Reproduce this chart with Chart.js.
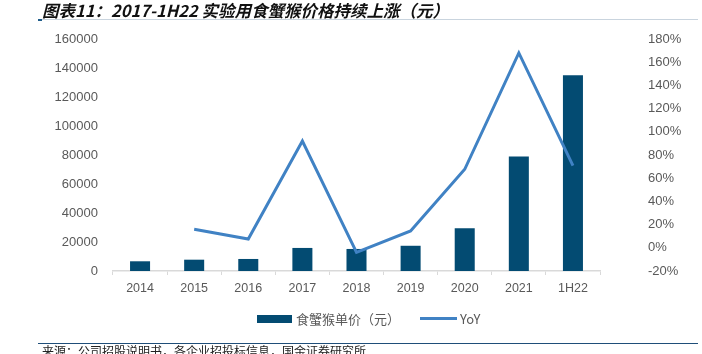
<!DOCTYPE html>
<html>
<head>
<meta charset="utf-8">
<script src="https://cdn.jsdelivr.net/npm/chart.js@4"></script>
<style>
  html, body { margin: 0; padding: 0; background: #fff; }
  #wrap { position: relative; width: 702px; height: 354px; overflow: hidden; }
  canvas#price-chart { position: absolute; left: 0; top: 0; }
  .title {
    position: absolute; left: 42px; top: 1px;
    font: italic bold 16.5px "Noto Sans CJK SC", sans-serif; color: #111;
    white-space: nowrap; line-height: 18px;
  }
  .title-rule { position: absolute; left: 38px; top: 19px; width: 660px; height: 1px; background: #c9d4de; }
  .title-mark { position: absolute; left: 38px; top: 19px; width: 4px; height: 2px; background: #1f5c8a; }
  .legend { position: absolute; top: 311px; font: 13px "Noto Sans CJK SC", sans-serif; color: #595959; white-space: nowrap; line-height: 16px; }
  .swatch { position: absolute; }
  .foot-rule { position: absolute; left: 38px; top: 343px; width: 660px; height: 1px; background: #1f4e79; }
  .foot {
    position: absolute; left: 42px; top: 344px;
    font: 12px "Noto Sans CJK SC", sans-serif; color: #222; white-space: nowrap; line-height: 14px;
  }
</style>
</head>
<body>
<div id="wrap">
  <canvas id="price-chart" width="702" height="354"></canvas>
  <div class="title">图表11：2017-1H22 实验用食蟹猴价格持续上涨（元）</div>
  <div class="title-rule"></div>
  <div class="title-mark"></div>
  <div class="swatch" style="left:257px;top:315px;width:35px;height:8px;background:#034b72"></div>
  <div class="legend" style="left:296px">食蟹猴单价（元）</div>
  <div class="swatch" style="left:420px;top:317px;width:37px;height:3px;background:#4082c4"></div>
  <div class="legend" style="left:460px">YoY</div>
  <div class="foot-rule"></div>
  <div class="foot">来源：公司招股说明书，各企业招投标信息，国金证券研究所</div>
</div>
<script>
// Data
const years = ['2014', '2015', '2016', '2017', '2018', '2019', '2020', '2021', '1H22']
const unitPrice = [6700, 7800, 8300, 15900, 15200, 17400, 29400, 79000, 135000]
const yoyPct = [null, 16, 7.6, 92, -3.9, 14.5, 67.7, 168, 70.8]

const priceTicks = { min: 0, max: 160000, step: 20000 }
const yoyTicks = { min: -20, max: 180, step: 20 }

const barColor = '#034b72'
const lineColor = '#4082c4'
const tickColor = '#595959'
const tickFont = { family: '"Liberation Sans", Arial, sans-serif', size: 13 }

// fixed axis widths; tick padding would otherwise push the chart area down
const fixWidth = w => scale => {
  scale.width = w
  scale.paddingTop = 0
  scale.paddingBottom = 0
}

const ctx = document.getElementById('price-chart')

new Chart(ctx, {
  type: 'bar',
  data: {
    labels: years,
    datasets: [
      {
        type: 'line',
        label: 'YoY',
        data: yoyPct,
        yAxisID: 'yRight',
        borderColor: lineColor,
        backgroundColor: lineColor,
        borderWidth: 3,
        pointRadius: 0,
        tension: 0,
        order: 0
      },
      {
        type: 'bar',
        label: '食蟹猴单价（元）',
        data: unitPrice,
        yAxisID: 'yLeft',
        backgroundColor: barColor,
        barPercentage: 0.37,
        categoryPercentage: 1,
        order: 1
      }
    ]
  },
  options: {
    responsive: false,
    animation: false,
    layout: { padding: { top: 39, bottom: 53, left: 0, right: 0 } },
    plugins: {
      legend: { display: false },
      tooltip: { enabled: false }
    },
    scales: {
      x: {
        offset: true,
        border: { display: true, color: '#d9d9d9', width: 1.5 },
        grid: { display: true, offset: true, drawOnChartArea: false, drawTicks: true, tickLength: 4, color: '#d9d9d9' },
        ticks: { color: tickColor, font: { family: tickFont.family, size: 12.5 }, padding: 6, maxRotation: 0 },
        afterFit: scale => { scale.height = 30 }
      },
      yLeft: {
        position: 'left',
        min: priceTicks.min,
        max: priceTicks.max,
        border: { display: false },
        grid: { display: false, drawTicks: false },
        ticks: { stepSize: priceTicks.step, color: tickColor, font: tickFont, padding: 15, callback: v => String(v) },
        afterFit: fixWidth(113)
      },
      yRight: {
        position: 'right',
        min: yoyTicks.min,
        max: yoyTicks.max,
        border: { display: false },
        grid: { display: false, drawTicks: false },
        ticks: {
          stepSize: yoyTicks.step,
          color: tickColor,
          font: tickFont,
          padding: 48,
          callback: v => `${v}%`
        },
        afterFit: fixWidth(102)
      }
    }
  }
})
</script>
</body>
</html>
